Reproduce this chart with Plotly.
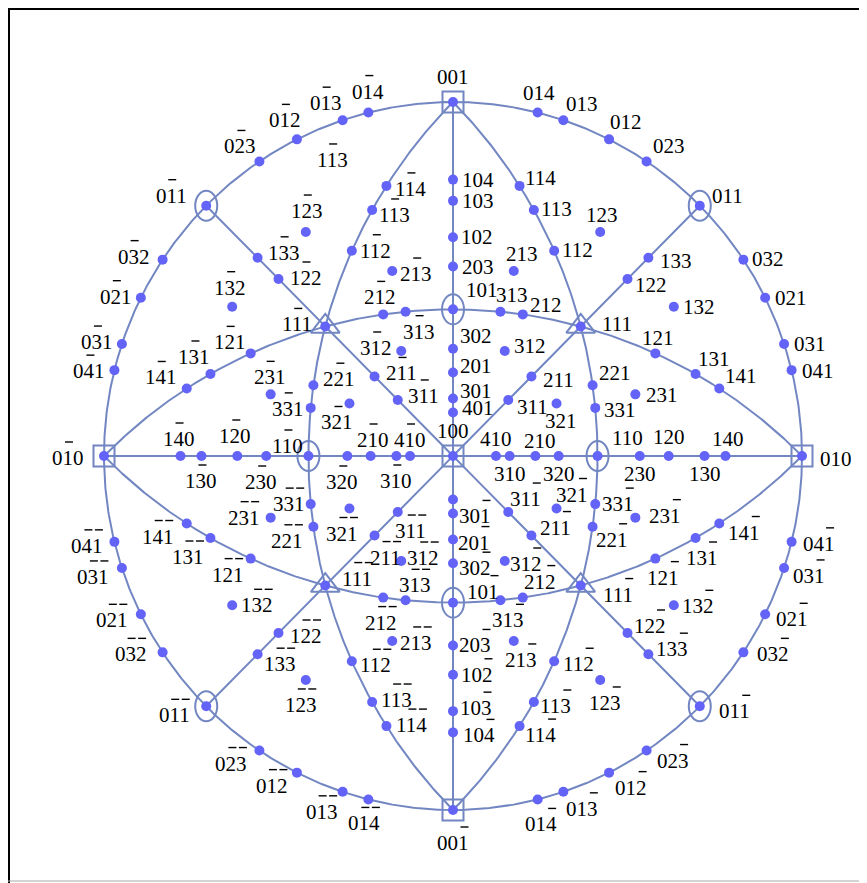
import numpy as np
import plotly.graph_objects as go

# ---------------- data: poles (h k l), projected along [100] ----------------
poles = [
    (0,0,1),(0,1,4),(0,1,3),(0,1,2),(0,2,3),(0,1,1),(0,3,2),(0,2,1),(0,3,1),(0,4,1),(0,1,0),
    (1,0,0),(1,0,4),(1,0,3),(1,0,2),(2,0,3),(1,0,1),(3,0,2),(2,0,1),(3,0,1),(4,0,1),
    (4,1,0),(3,1,0),(2,1,0),(3,2,0),(1,1,0),(2,3,0),(1,2,0),(1,3,0),(1,4,0),
    (1,1,4),(1,1,3),(1,1,2),(1,1,1),(2,2,1),(3,3,1),(3,1,3),(2,1,2),(1,2,1),(1,3,1),(1,4,1),
    (1,3,3),(1,2,2),(2,1,1),(3,1,1),(1,2,3),(2,1,3),(1,3,2),(3,1,2),(3,2,1),(2,3,1),
    (0,-1,4),(0,-1,3),(0,-1,2),(0,-2,3),(0,-1,1),(0,-3,2),(0,-2,1),(0,-3,1),(0,-4,1),(0,-1,0),
    (1,-1,4),(1,-1,3),(1,-1,2),(1,-1,1),(2,-1,3),(2,-1,2),(3,-1,3),(1,-2,3),(1,-3,3),(1,-2,2),
    (1,-3,2),(1,-2,1),(1,-3,1),(1,-4,1),(1,-4,0),(1,-3,0),(1,-2,0),(2,-3,0),(1,-1,0),(3,-2,0),
    (2,-1,0),(3,-1,0),(4,-1,0),(2,-3,1),(3,-3,1),(2,-2,1),(3,-2,1),(3,-1,2),(2,-1,1),(3,-1,1),
    (3,1,-1),(3,2,-1),(3,3,-1),(2,2,-1),(2,1,-1),(4,0,-1),(3,0,-1),(2,0,-1),(3,0,-2),(3,1,-2),
    (2,1,-2),(1,0,-1),(3,1,-3),(2,1,-3),(2,0,-3),(1,0,-2),(1,0,-3),(1,0,-4),(0,0,-1),(1,1,-2),
    (1,1,-3),(1,1,-4),(1,2,-3),(0,1,-4),(0,1,-3),(0,1,-2),(0,2,-3),(0,1,-1),(0,3,-2),(0,2,-1),
    (0,3,-1),(0,4,-1),(1,3,-2),(1,3,-3),(1,2,-2),(1,2,-1),(1,1,-1),(1,3,-1),(1,4,-1),(2,3,-1),
    (0,-4,-1),(0,-3,-1),(0,-2,-1),(0,-3,-2),(0,-1,-1),(0,-2,-3),(0,-1,-2),(0,-1,-3),(0,-1,-4),
    (1,-2,-3),(1,-3,-3),(1,-2,-2),(1,-3,-2),(1,-1,-2),(1,-1,-3),(1,-1,-4),(2,-1,-2),(3,-1,-3),
    (2,-1,-3),(1,-1,-1),(1,-4,-1),(1,-3,-1),(1,-2,-1),(2,-3,-1),(3,-3,-1),(2,-2,-1),(3,-2,-1),
    (3,-1,-1),(2,-1,-1),(3,-1,-2),
]

# zone axes whose great circles are drawn
zone_axes = [(1,0,0),(0,1,0),(0,0,1),(0,1,1),(0,1,-1),(1,1,0),(1,-1,0),(1,0,1),(1,0,-1)]

four_fold = [(1,0,0),(0,1,0),(0,-1,0),(0,0,1),(0,0,-1)]
two_fold = [(0,1,1),(0,-1,1),(0,1,-1),(0,-1,-1),(1,1,0),(1,-1,0),(1,0,1),(1,0,-1)]
three_fold = [(1,1,1),(1,-1,1),(1,1,-1),(1,-1,-1)]

# label placement (screen pixel offsets from the pole: dx right, dy down)
label_pos = {
    (0,0,1):(0,-25),(0,1,4):(1,-20),(0,1,3):(19,-16),(0,1,2):(17,-17),(0,2,3):(22,-15),
    (0,1,1):(28,-10),(0,3,2):(25,-1),(0,2,1):(26,0),(0,3,1):(26,0),(0,4,1):(26,1),(0,1,0):(34,3),
    (1,0,0):(0,-25),(1,0,4):(25,0),(1,0,3):(25,0),(1,0,2):(24,0),(2,0,3):(25,0),(1,0,1):(29,-19),
    (3,0,2):(23,-13),(2,0,1):(23,-6),(3,0,1):(23,-8),(4,0,1):(25,-4),
    (4,1,0):(0,-17),(3,1,0):(0,18),(2,1,0):(5,-15),(3,2,0):(0,18),(1,1,0):(30,-18),(2,3,0):(0,18),
    (1,2,0):(0,-19),(1,3,0):(0,18),(1,4,0):(3,-17),
    (1,1,4):(21,-8),(1,1,3):(23,-1),(1,1,2):(23,-1),(1,1,1):(36,-2),(2,2,1):(22,-12),(3,3,1):(25,2),
    (3,1,3):(12,-17),(2,1,2):(23,-9),(1,2,1):(3,-15),(1,3,1):(18,-15),(1,4,1):(22,-12),
    (1,3,3):(28,3),(1,2,2):(23,6),(2,1,1):(27,4),(3,1,1):(24,7),(1,2,3):(2,-17),(2,1,3):(8,-17),
    (1,3,2):(25,0),(3,1,2):(25,-5),(3,2,1):(4,18),(2,3,1):(27,1),
    (0,-1,4):(0,-21),(0,-1,3):(-17,-17),(0,-1,2):(-12,-19),(0,-2,3):(-19,-15),(0,-1,1):(-35,-10),
    (0,-3,2):(-29,-3),(0,-2,1):(-25,-1),(0,-3,1):(-25,-2),(0,-4,1):(-25,1),(0,-1,0):(-36,2),
    (1,-1,4):(24,3),(1,-1,3):(22,5),(1,-1,2):(24,0),(1,-1,1):(-28,-2),(2,-1,3):(24,3),
    (2,-1,2):(-3,-17),(3,-1,3):(13,20),(1,-2,3):(1,-21),(1,-3,3):(26,-5),(1,-2,2):(27,-1),
    (1,-3,2):(-2,-19),(1,-2,1):(-21,-11),(1,-3,1):(-16,-17),(1,-4,1):(-26,-11),
    (1,-4,0):(-2,-17),(1,-3,0):(0,25),(1,-2,0):(-2,-20),(2,-3,0):(-5,26),(1,-1,0):(-21,-10),
    (3,-2,0):(-5,26),(2,-1,0):(2,-16),(3,-1,0):(0,25),(4,-1,0):(0,-16),
    (2,-3,1):(-1,-17),(3,-3,1):(-23,1),(2,-2,1):(26,-6),(3,-2,1):(-12,19),(3,-1,2):(-25,-3),
    (2,-1,1):(27,-3),(3,-1,1):(26,-4),
    (3,1,-1):(17,-13),(3,2,-1):(15,-14),(3,3,-1):(23,0),(2,2,-1):(19,13),(2,1,-1):(24,-8),
    (3,0,-1):(22,3),(2,0,-1):(21,3),(3,0,-2):(22,5),(3,1,-2):(21,3),(2,1,-2):(17,-16),
    (1,0,-1):(30,-11),(3,1,-3):(8,20),(2,1,-3):(7,19),(2,0,-3):(22,0),(1,0,-2):(24,0),
    (1,0,-3):(23,-3),(1,0,-4):(26,3),(0,0,-1):(0,33),(1,1,-2):(24,3),(1,1,-3):(22,4),
    (1,1,-4):(21,9),(1,2,-3):(5,23),(0,1,-4):(3,25),(0,1,-3):(19,17),(0,1,-2):(22,15),
    (0,2,-3):(26,10),(0,1,-1):(35,5),(0,3,-2):(30,2),(0,2,-1):(27,5),(0,3,-1):(25,8),
    (0,4,-1):(27,2),(1,3,-2):(24,1),(1,3,-3):(24,-5),(1,2,-2):(22,-7),(1,2,-1):(8,19),
    (1,1,-1):(37,9),(1,3,-1):(6,20),(1,4,-1):(25,9),(2,3,-1):(30,-2),
    (0,-4,-1):(-27,4),(0,-3,-1):(-29,9),(0,-2,-1):(-29,6),(0,-3,-2):(-32,2),(0,-1,-1):(-32,9),
    (0,-2,-3):(-28,13),(0,-1,-2):(-25,13),(0,-1,-3):(-21,20),(0,-1,-4):(-4,24),
    (1,-2,-3):(-5,25),(1,-3,-3):(22,10),(1,-2,-2):(27,3),(1,-3,-2):(25,0),(1,-1,-2):(24,4),
    (1,-1,-3):(24,-2),(1,-1,-4):(25,-1),(2,-1,-2):(-2,25),(3,-1,-3):(9,-15),(2,-1,-3):(24,2),
    (1,-1,-1):(32,-7),(1,-4,-1):(-29,13),(1,-3,-1):(-22,19),(1,-2,-1):(-23,16),
    (2,-3,-1):(-27,0),(3,-3,-1):(-22,0),(2,-2,-1):(-26,14),(3,-2,-1):(-7,25),
    (3,-1,-1):(13,19),(2,-1,-1):(11,22),(3,-1,-2):(22,-3),
}
# second (stray) label drawn for 1-13 in the original
extra_labels = [((1,-1,3), (-40,-50))]

# ---------------- styles ----------------
DOT = "#6363f7"
LINE = "#7286c2"
FONT = "Liberation Serif"
FS = 21
W, H = 867, 883
OFF = 8  # page body margin
CX, CY, RX, RY = 453 - OFF, 456 - OFF, 349, 354


def proj(p):
    h, k, l = p
    n = np.sqrt(h*h + k*k + l*l)
    return k/(n+h), l/(n+h)


fig = go.Figure()

# great circles
for n in zone_axes:
    n = np.array(n, float)
    n /= np.linalg.norm(n)
    ex = np.array([1.0, 0, 0])
    if abs(abs(n @ ex) - 1) < 1e-9:
        u = np.array([0, 1.0, 0]); w = np.array([0, 0, 1.0])
        t = np.linspace(0, 2*np.pi, 721)
    else:
        u = np.cross(n, ex); u /= np.linalg.norm(u)
        w = np.cross(n, u); w /= np.linalg.norm(w)
        if w[0] < 0:
            w = -w
        t = np.linspace(0, np.pi, 721)
    v = np.outer(np.cos(t), u) + np.outer(np.sin(t), w)
    xs = v[:, 1] / (1 + v[:, 0])
    ys = v[:, 2] / (1 + v[:, 0])
    fig.add_trace(go.Scatter(x=xs, y=ys, mode="lines", line=dict(color=LINE, width=2),
                             hoverinfo="skip", showlegend=False))

# poles
px = [proj(p)[0] for p in poles]
py = [proj(p)[1] for p in poles]
fig.add_trace(go.Scatter(x=px, y=py, mode="markers", marker=dict(color=DOT, size=10),
                         showlegend=False, hoverinfo="skip"))

# symmetry symbols
fig.add_trace(go.Scatter(x=[proj(p)[0] for p in four_fold], y=[proj(p)[1] for p in four_fold],
                         mode="markers", showlegend=False, hoverinfo="skip",
                         marker=dict(symbol="square-open", size=21, color=LINE, line=dict(width=2, color=LINE))))
fig.add_trace(go.Scatter(x=[proj(p)[0] for p in three_fold], y=[proj(p)[1] for p in three_fold],
                         mode="markers", showlegend=False, hoverinfo="skip",
                         marker=dict(symbol="triangle-up-open", size=25, color=LINE, line=dict(width=2, color=LINE))))
shapes = []
for p in two_fold:
    x, y = proj(p)
    shapes.append(dict(type="circle", xref="x", yref="y", xsizemode="pixel", ysizemode="pixel",
                       xanchor=x, yanchor=y, x0=-11, x1=11, y0=-15, y1=15,
                       line=dict(color=LINE, width=2), layer="above"))

# labels with overbars for negative indices
annotations = []
DW = FS * 0.5  # digit width


def add_label(p, dx, dy):
    x, y = proj(p)
    txt = "".join(str(abs(c)) for c in p)
    annotations.append(dict(x=x, y=y, xref="x", yref="y", text=txt, showarrow=False,
                            xshift=dx, yshift=-dy, xanchor="center", yanchor="middle",
                            font=dict(family=FONT, size=FS, color="black")))
    for i, c in enumerate(p):
        if c < 0:
            cx = dx + (i - 1) * DW + 1
            shapes.append(dict(type="line", xref="x", yref="y", xsizemode="pixel", ysizemode="pixel",
                               xanchor=x, yanchor=y, x0=cx - 4, x1=cx + 4,
                               y0=-(dy - 16), y1=-(dy - 16),
                               line=dict(color="black", width=1.4)))


for p in poles:
    if p in label_pos:
        add_label(p, *label_pos[p])
for p, (dx, dy) in extra_labels:
    add_label(p, dx, dy)

# frame
shapes.append(dict(type="line", xref="paper", yref="paper", x0=0, x1=1, y0=1-1/H, y1=1-1/H,
                   line=dict(color="black", width=2)))
shapes.append(dict(type="line", xref="paper", yref="paper", x0=1/W, x1=1/W, y0=0, y1=1,
                   line=dict(color="black", width=2)))
shapes.append(dict(type="line", xref="paper", yref="paper", x0=0, x1=1, y0=1-(881-OFF)/H, y1=1-(881-OFF)/H,
                   line=dict(color="#aaaaaa", width=1)))

fig.update_layout(
    width=W, height=H, margin=dict(l=0, r=0, t=0, b=0),
    paper_bgcolor="white", plot_bgcolor="white",
    xaxis=dict(range=[-CX/RX, (W-CX)/RX], visible=False, fixedrange=True),
    yaxis=dict(range=[(CY-H)/RY, CY/RY], visible=False, fixedrange=True),
    shapes=shapes, annotations=annotations, showlegend=False,
)
fig.write_html("out.html")
